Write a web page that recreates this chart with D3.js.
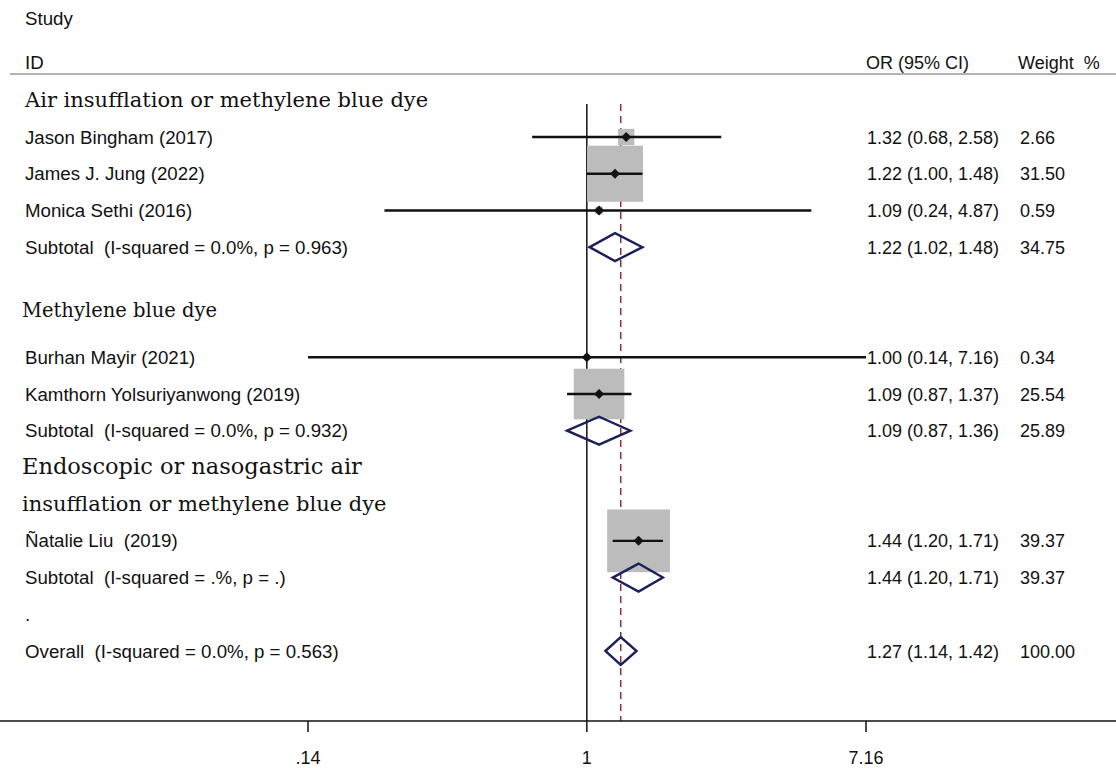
<!DOCTYPE html>
<html>
<head>
<meta charset="utf-8">
<script src="https://cdn.jsdelivr.net/npm/d3@7"></script>
<style>
  body { margin: 0; background: #fff; }
  text { font-family: "Liberation Sans", Arial, sans-serif; fill: #111; white-space: pre; }
  .head { font-family: "DejaVu Serif", "Liberation Serif", serif; }
</style>
</head>
<body>
<svg id="chart" width="1116" height="768"></svg>
<script>
// study rows
const studyLabels = ["Jason Bingham (2017)", "James J. Jung (2022)", "Monica Sethi (2016)",
  "Burhan Mayir (2021)", "Kamthorn Yolsuriyanwong (2019)", "Ñatalie Liu  (2019)"];
const studyOR = [1.32, 1.22, 1.09, 1.00, 1.09, 1.44];
const studyLo = [0.68, 1.00, 0.24, 0.14, 0.87, 1.20];
const studyHi = [2.58, 1.48, 4.87, 7.16, 1.37, 1.71];
const studyWeight = [2.66, 31.50, 0.59, 0.34, 25.54, 39.37];
const studyRow = [0, 1, 2, 6, 7, 11];

// pooled rows
const poolLabels = ["Subtotal  (I-squared = 0.0%, p = 0.963)", "Subtotal  (I-squared = 0.0%, p = 0.932)",
  "Subtotal  (I-squared = .%, p = .)", "Overall  (I-squared = 0.0%, p = 0.563)"];
const poolOR = [1.22, 1.09, 1.44, 1.27];
const poolLo = [1.02, 0.87, 1.20, 1.14];
const poolHi = [1.48, 1.36, 1.71, 1.42];
const poolWeight = [34.75, 25.89, 39.37, 100.00];
const poolRow = [3, 8, 12, 14];

// subgroup headings
const headLabels = ["Air insufflation or methylene blue dye", "Methylene blue dye",
  "Endoscopic or nasogastric air", "insufflation or methylene blue dye"];
const headRow = [-1, 4.7, 9, 10];
const headSize = [21, 19.5, 22.5, 21];

const tickValues = [0.14, 1, 7.16];
const tickLabels = [".14", "1", "7.16"];

const svg = d3.select("#chart");
const fmt = d3.format(".2f");
const fs = "18.7px";
const fsNum = "18px";
const colOR = 866, colW = 1019;

const x = d3.scaleLog().domain([0.14, 7.16]).range([308, 866]);
const y = d3.scaleLinear().domain([0, 14]).range([137, 651]);
const axisY = 721;
const topY = 104;

// header
svg.append("text").attr("x", 25).attr("y", 25).style("font-size", fs).text("Study");
svg.append("text").attr("x", 25).attr("y", 69).style("font-size", fs).text("ID");
svg.append("text").attr("x", colOR).attr("y", 69).style("font-size", fsNum).text("OR (95% CI)");
svg.append("text").attr("x", colW - 1).attr("y", 69).style("font-size", fsNum).text("Weight  %");
svg.append("line").attr("x1", 10).attr("x2", 1116).attr("y1", 74).attr("y2", 74)
  .attr("stroke", "#999").attr("stroke-width", 1.5);

// reference lines
svg.append("line").attr("x1", x(1)).attr("x2", x(1)).attr("y1", topY).attr("y2", axisY)
  .attr("stroke", "#111").attr("stroke-width", 1.5);
svg.append("line").attr("x1", x(poolOR[3])).attr("x2", x(poolOR[3])).attr("y1", topY).attr("y2", axisY)
  .attr("stroke", "#8a2f3c").attr("stroke-width", 1.5).attr("stroke-dasharray", "7,5");

// headings
svg.selectAll("text.head").data(headLabels).enter().append("text")
  .attr("class", "head")
  .attr("x", (d, i) => i === 0 ? 25 : 22)
  .attr("y", (d, i) => y(headRow[i]) + 7)
  .style("font-size", (d, i) => headSize[i] + "px")
  .text(d => d);

// weight boxes
const studies = studyLabels.map((d, i) => ({
  label: d, or: studyOR[i], lo: studyLo[i], hi: studyHi[i], w: studyWeight[i], row: studyRow[i]
}));
const boxSide = d => 10 * Math.sqrt(d.w);

svg.selectAll("rect.box").data(studies).enter().append("rect")
  .attr("class", "box")
  .attr("x", d => x(d.or) - boxSide(d) / 2)
  .attr("y", d => y(d.row) - boxSide(d) / 2)
  .attr("width", boxSide)
  .attr("height", boxSide)
  .attr("fill", "#bcbcbc");

svg.selectAll("line.ci").data(studies).enter().append("line")
  .attr("class", "ci")
  .attr("x1", d => x(d.lo)).attr("x2", d => x(d.hi))
  .attr("y1", d => y(d.row)).attr("y2", d => y(d.row))
  .attr("stroke", "#111").attr("stroke-width", 2.4);

svg.selectAll("path.pt").data(studies).enter().append("path")
  .attr("class", "pt")
  .attr("d", d => {
    const cx = x(d.or), cy = y(d.row), r = 5;
    return `M${cx},${cy - r}L${cx + r},${cy}L${cx},${cy + r}L${cx - r},${cy}Z`;
  })
  .attr("fill", "#111");

// pooled diamonds
const pools = poolLabels.map((d, i) => ({
  label: d, or: poolOR[i], lo: poolLo[i], hi: poolHi[i], w: poolWeight[i], row: poolRow[i]
}));
svg.selectAll("path.dia").data(pools).enter().append("path")
  .attr("class", "dia")
  .attr("d", d => {
    const cy = y(d.row), h = 14;
    return `M${x(d.lo)},${cy}L${x(d.or)},${cy - h}L${x(d.hi)},${cy}L${x(d.or)},${cy + h}Z`;
  })
  .attr("fill", "none").attr("stroke", "#1c1f5a").attr("stroke-width", 2.4);

// row labels and numbers
const allRows = studies.concat(pools);
svg.selectAll("text.lab").data(allRows).enter().append("text")
  .attr("class", "lab")
  .attr("x", 25).attr("y", d => y(d.row) + 6.5)
  .style("font-size", fs)
  .text(d => d.label);
svg.selectAll("text.est").data(allRows).enter().append("text")
  .attr("class", "est")
  .attr("x", colOR + 1).attr("y", d => y(d.row) + 6.5)
  .style("font-size", fsNum)
  .text(d => `${fmt(d.or)} (${fmt(d.lo)}, ${fmt(d.hi)})`);
svg.selectAll("text.wt").data(allRows).enter().append("text")
  .attr("class", "wt")
  .attr("x", colW + 1).attr("y", d => y(d.row) + 6.5)
  .style("font-size", fsNum)
  .text(d => fmt(d.w));

// stray dot row
svg.append("text").attr("x", 25).attr("y", y(13) + 6.5).style("font-size", fs).text(".");

// x axis
const axis = svg.append("g").attr("transform", `translate(0,${axisY})`);
axis.append("line").attr("x1", 0).attr("x2", 1116).attr("stroke", "#111").attr("stroke-width", 1.5);
axis.selectAll("line.tick").data(tickValues).enter().append("line")
  .attr("x1", d => x(d)).attr("x2", d => x(d)).attr("y1", 0).attr("y2", 11)
  .attr("stroke", "#111").attr("stroke-width", 1.5);
axis.selectAll("text.tl").data(tickLabels).enter().append("text")
  .attr("class", "tl")
  .attr("x", (d, i) => x(tickValues[i])).attr("y", 43)
  .attr("text-anchor", "middle").style("font-size", fsNum)
  .text(d => d);
</script>
</body>
</html>
